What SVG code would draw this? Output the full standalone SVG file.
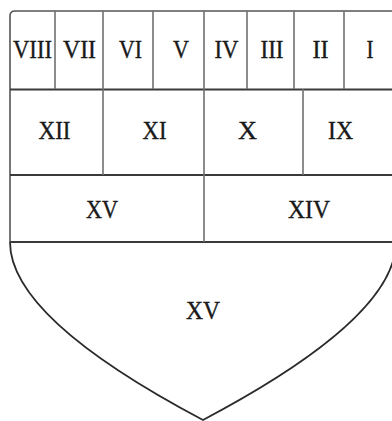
<svg xmlns="http://www.w3.org/2000/svg" width="392" height="421" viewBox="0 0 392 421">
<style>
.t{font-family:"Liberation Serif","Times New Roman",serif;font-size:26px;fill:#1a1a1a;stroke:#1a1a1a;stroke-width:0.4;text-anchor:middle}
.h{stroke:#3a3a3a;stroke-width:2.2;fill:none}
.v{stroke:#707070;stroke-width:1.6;fill:none}
.o{stroke:#555;stroke-width:1.6;fill:none}
.c{stroke:#2a2a2a;stroke-width:1.8;fill:none}
</style>
<rect width="392" height="421" fill="#fff"/>
<g id="connectors">
<path class="o" d="M10 242 V16 Q10 11 15 11 H392"/>
<path class="c" d="M10 242 Q10 318 203 420 Q396 318 396 242"/>
<line class="h" x1="10" y1="89.5" x2="392" y2="89.5"/>
<line class="h" x1="10" y1="175" x2="392" y2="175"/>
<line class="h" x1="10" y1="242" x2="392" y2="242"/>
<line class="v" x1="55" y1="11" x2="55" y2="89"/>
<line class="v" x1="103" y1="11" x2="103" y2="175"/>
<line class="v" x1="153" y1="11" x2="153" y2="89"/>
<line class="v" x1="204" y1="11" x2="204" y2="242"/>
<line class="v" x1="247" y1="11" x2="247" y2="89"/>
<line class="v" x1="294" y1="11" x2="294" y2="89"/>
<line class="v" x1="344" y1="11" x2="344" y2="89"/>
<line class="v" x1="303" y1="89" x2="303" y2="175"/>
</g>
<g id="n8"><text class="t" x="32.5" y="58" textLength="39" lengthAdjust="spacingAndGlyphs">VIII</text></g>
<g id="n7"><text class="t" x="79.5" y="58" textLength="33" lengthAdjust="spacingAndGlyphs">VII</text></g>
<g id="n6"><text class="t" x="130.5" y="58" textLength="23" lengthAdjust="spacingAndGlyphs">VI</text></g>
<g id="n5"><text class="t" x="181" y="58" textLength="16" lengthAdjust="spacingAndGlyphs">V</text></g>
<g id="n4"><text class="t" x="226.5" y="58" textLength="24" lengthAdjust="spacingAndGlyphs">IV</text></g>
<g id="n3"><text class="t" x="272" y="58" textLength="23" lengthAdjust="spacingAndGlyphs">III</text></g>
<g id="n2"><text class="t" x="320.5" y="58" textLength="16" lengthAdjust="spacingAndGlyphs">II</text></g>
<g id="n1"><text class="t" x="370" y="58" textLength="7" lengthAdjust="spacingAndGlyphs">I</text></g>
<g id="n12"><text class="t" x="54.5" y="139" textLength="32" lengthAdjust="spacingAndGlyphs">XII</text></g>
<g id="n11"><text class="t" x="154.5" y="139" textLength="24" lengthAdjust="spacingAndGlyphs">XI</text></g>
<g id="n10"><text class="t" x="247.5" y="139" textLength="19" lengthAdjust="spacingAndGlyphs">X</text></g>
<g id="n9"><text class="t" x="340.5" y="139" textLength="25" lengthAdjust="spacingAndGlyphs">IX</text></g>
<g id="n15a"><text class="t" x="102" y="218" textLength="32" lengthAdjust="spacingAndGlyphs">XV</text></g>
<g id="n14"><text class="t" x="309" y="218" textLength="42" lengthAdjust="spacingAndGlyphs">XIV</text></g>
<g id="n15b"><text class="t" x="203" y="319" textLength="34" lengthAdjust="spacingAndGlyphs">XV</text></g>
</svg>
